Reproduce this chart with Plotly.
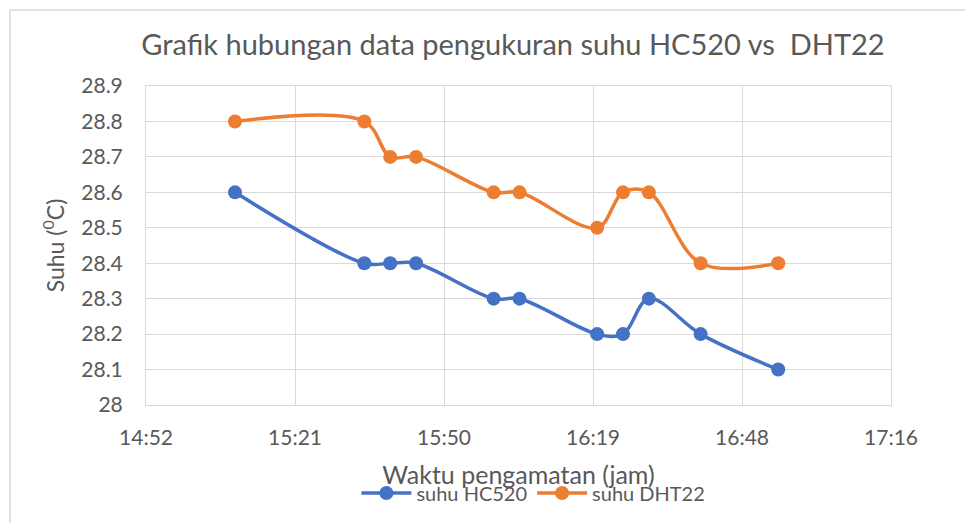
import pandas as pd
import plotly.graph_objects as go

# ---- data ----
times = ["15:10", "15:35", "15:40", "15:45", "16:00", "16:05",
         "16:20", "16:25", "16:30", "16:40", "16:55"]
hc520 = [28.6, 28.4, 28.4, 28.4, 28.3, 28.3, 28.2, 28.2, 28.3, 28.2, 28.1]
dht22 = [28.8, 28.8, 28.7, 28.7, 28.6, 28.6, 28.5, 28.6, 28.6, 28.4, 28.4]

x_tick_times = ["14:52:48", "15:21:36", "15:50:24", "16:19:12", "16:48:00", "17:16:48"]
x_tick_labels = ["14:52", "15:21", "15:50", "16:19", "16:48", "17:16"]
y_tick_vals = [28.0, 28.1, 28.2, 28.3, 28.4, 28.5, 28.6, 28.7, 28.8, 28.9]
y_tick_labels = ["28", "28.1", "28.2", "28.3", "28.4", "28.5", "28.6", "28.7", "28.8", "28.9"]

DAY = "2024-01-01 "
x = pd.to_datetime([DAY + t for t in times])
xt = pd.to_datetime([DAY + t for t in x_tick_times])

FONT = "Lato"
TXT = "#595959"
GRID = "#d9d9d9"

fig = go.Figure()
fig.add_trace(go.Scatter(
    x=x, y=hc520, name="suhu HC520", mode="lines+markers",
    line=dict(color="#4472C4", width=3.5, shape="spline", smoothing=1),
    marker=dict(size=14, color="#4472C4"),
))
fig.add_trace(go.Scatter(
    x=x, y=dht22, name="suhu DHT22", mode="lines+markers",
    line=dict(color="#ED7D31", width=3.5, shape="spline", smoothing=1),
    marker=dict(size=14, color="#ED7D31"),
))

fig.update_layout(
    width=973, height=523,
    margin=dict(l=138, r=90, t=78, b=126),
    paper_bgcolor="white", plot_bgcolor="white",
    font=dict(family=FONT, color=TXT, size=21),
    title=dict(text="Grafik hubungan data pengukuran suhu HC520 vs  DHT22",
               x=0.519, xanchor="center", y=0.929, yanchor="middle",
               font=dict(size=29, color=TXT, family=FONT)),
    showlegend=True,
    legend=dict(orientation="h", x=0.52, xanchor="center", y=-0.276, yanchor="middle",
                font=dict(size=20, color=TXT), itemwidth=50, bgcolor="rgba(0,0,0,0)"),
    xaxis=dict(
        type="date", range=[xt[0], xt[-1]],
        tickmode="array", tickvals=xt, ticktext=x_tick_labels,
        showgrid=True, gridcolor=GRID, gridwidth=1,
        showline=True, linecolor=GRID, mirror=True,
        zeroline=False, ticks="", ticklabelstandoff=14,
        tickfont=dict(size=21, color=TXT),
        title=dict(text="Waktu pengamatan (jam)", standoff=18,
                   font=dict(size=25, color=TXT)),
    ),
    yaxis=dict(
        range=[28.0, 28.9],
        tickmode="array", tickvals=y_tick_vals, ticktext=y_tick_labels,
        showgrid=True, gridcolor=GRID, gridwidth=1,
        showline=True, linecolor=GRID, mirror=True,
        zeroline=False, ticks="", ticklabelstandoff=18,
        tickfont=dict(size=21, color=TXT),
        title=dict(text="Suhu (<sup>0</sup>C)", standoff=10,
                   font=dict(size=23, color=TXT)),
    ),
    shapes=[dict(type="rect", xref="paper", yref="paper",
                 x0=-0.1826, x1=1.5, y0=-0.6, y1=1.238,
                 line=dict(color="#d9d9d9", width=1.5), layer="below")],
)

fig.write_html("out.html")
